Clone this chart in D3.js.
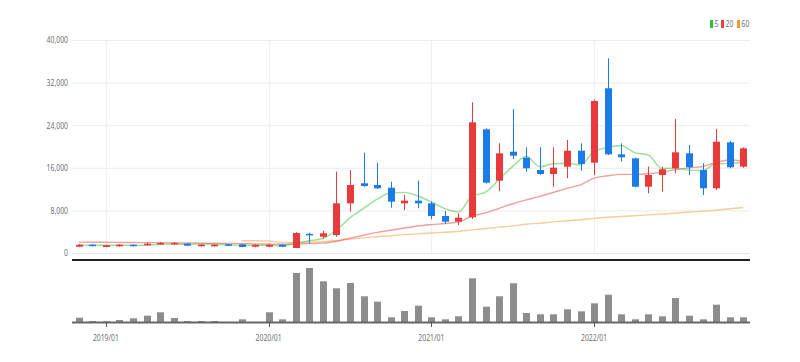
<!DOCTYPE html>
<html><head><meta charset="utf-8">
<script src="https://cdn.jsdelivr.net/npm/d3@7"></script>
<style>
body{margin:0;background:#fff;}
svg{display:block;}
text{font-family:"Noto Sans",sans-serif;}
</style>
</head><body><svg id="c" width="800" height="362"></svg>
<script>
const months = ["2018/11","2018/12",
 "2019/01","2019/02","2019/03","2019/04","2019/05","2019/06","2019/07","2019/08","2019/09","2019/10","2019/11","2019/12",
 "2020/01","2020/02","2020/03","2020/04","2020/05","2020/06","2020/07","2020/08","2020/09","2020/10","2020/11","2020/12",
 "2021/01","2021/02","2021/03","2021/04","2021/05","2021/06","2021/07","2021/08","2021/09","2021/10","2021/11","2021/12",
 "2022/01","2022/02","2022/03","2022/04","2022/05","2022/06","2022/07","2022/08","2022/09","2022/10","2022/11","2022/12"];
const openP  = [1180,1560,1130,1260,1560,1450,1630,1630,1750,1260,1260,1630,1630,1180,1180,1560,940,3600,3050,3380,9330,13090,12770,12270,9330,9830,9330,6950,5880,6700,23230,13580,19020,17900,15590,14840,16210,19210,16960,30930,18530,17780,12450,14650,15900,18720,15590,12150,20780,16210];
const highP  = [1700,1650,1550,1650,1650,2000,2070,2070,1850,1650,1650,1700,1700,1650,1650,1650,3900,3800,4200,15270,15590,18840,16960,13390,10890,13580,9640,7890,7450,28300,23420,20600,27040,19850,19850,19850,21220,20600,28800,36560,20600,17900,16210,16210,25170,20280,16840,23290,21030,19850];
const lowP   = [1100,1250,1080,1200,1250,1400,1580,1580,1300,1200,1200,1300,1080,1100,1100,1130,900,1800,2750,3060,7760,12450,12020,8510,8080,8390,6330,5450,5260,6390,13020,11640,17650,15270,14650,12450,14030,15460,14650,18400,17150,12330,11210,11520,14970,14650,10890,11830,15910,16020];
const closeP = [1560,1310,1450,1560,1310,1750,1880,1880,1370,1560,1560,1370,1130,1560,1560,1180,3760,3400,3700,9330,12770,12580,12150,9640,9830,9330,6950,5880,6630,24540,13200,18720,18270,15900,14840,16020,19210,16710,28550,18530,17970,12450,14650,15720,18910,16100,12150,20900,16100,19660];
const volume = [43,10,7,20,37,63,97,40,10,10,10,0,27,0,97,27,490,540,407,337,390,257,203,47,110,163,47,27,57,437,153,257,387,90,77,77,127,107,187,273,77,27,77,57,240,63,27,173,47,47];
const ma5  = [1480,1450,1460,1470,1438,1476,1590,1676,1638,1688,1650,1548,1398,1436,1436,1360,1838,2292,2720,4274,6592,8356,10106,11294,11394,10706,9580,8326,7724,10666,11440,13794,16272,18126,16186,16750,16848,16536,19066,19804,20194,18842,18430,15864,15940,15566,15506,16756,16832,16982];
const ma20 = [2050,2030,2010,1990,1970,1950,1930,1910,1880,1850,1820,1790,1760,1720,1680,1640,1718,1778,1853,2210,2770,3334,3869,4273,4699,5078,5331,5531,5794,6943,7525,8393,9250,9967,10631,11373,12145,12811,14053,14513,14773,14767,14892,15196,15650,15988,16248,16999,17473,17229];
const ma60 = [null,null,null,null,null,null,null,null,null,null,null,null,2300,2300,2250,2000,2000,2050,2150,2350,2600,2850,3050,3250,3450,3600,3750,3900,4050,4350,4600,4850,5100,5400,5600,5850,6050,6250,6500,6700,6850,7000,7150,7300,7500,7700,7850,8050,8300,8550];
const yTicks = [0,8000,16000,24000,32000,40000];
const xTickLabels = ["2019/01","2020/01","2021/01","2022/01"];
const legendLabels = ["5","20","60"];

const svg = d3.select("#c");
const L = 72, R = 750, yTop = 40, yBot = 253, vTop = 268, vBot = 322;
const UP = "#e8393b", DOWN = "#1b7be8";
const maColors = ["#2fbf2f","#e84040","#f39a3a"];
const TXT = "#6f6f6f";

const x = d3.scaleBand().domain(months).range([L, R]).padding(0);
const cx = m => x(m) + x.bandwidth()/2;
const y = d3.scaleLinear().domain([0, 40000]).range([yBot, yTop]);
const vy = d3.scaleLinear().domain([0, 540]).range([vBot, vTop]);
const bw = 7;

function squeeze(sel, f){
  sel.each(function(){
    const w = this.getComputedTextLength();
    d3.select(this).attr("textLength", w*f).attr("lengthAdjust","spacingAndGlyphs");
  });
}

// horizontal grid
svg.append("g").selectAll("line").data(yTicks).join("line")
  .attr("x1", L).attr("x2", R).attr("y1", d=>y(d)+0.5).attr("y2", d=>y(d)+0.5)
  .attr("stroke", "#ececec").attr("stroke-width", 1);
// vertical grid
svg.append("g").selectAll("line").data(xTickLabels).join("line")
  .attr("x1", d=>Math.round(cx(d))+0.5).attr("x2", d=>Math.round(cx(d))+0.5)
  .attr("y1", yTop).attr("y2", yBot)
  .attr("stroke", "#f0f0f0").attr("stroke-width", 1);

// y axis labels
const yl = svg.append("g").selectAll("text").data(yTicks).join("text")
  .attr("x", 68).attr("y", d=>y(d)).attr("dy","0.35em")
  .attr("text-anchor","end").attr("font-size", 9.5).attr("fill", TXT)
  .text(d3.format(","));
squeeze(yl, 0.72);

// MA lines
const mk = arr => d3.line().defined((d,i)=>arr[i]!=null)
  .x((d,i)=>cx(months[i])).y((d,i)=>y(arr[i])).curve(d3.curveMonotoneX)(months);
[[ma60,2],[ma20,1],[ma5,0]].forEach(([arr,k])=>{
  svg.append("path").attr("d", mk(arr)).attr("fill","none")
    .attr("stroke", maColors[k]).attr("stroke-opacity", 0.5).attr("stroke-width", 1.4);
});

// candles
const cg = svg.append("g");
months.forEach((m,i)=>{
  const up = closeP[i] >= openP[i];
  const col = up ? UP : DOWN;
  const xc = Math.round(cx(m)) + 0.5;
  cg.append("line").attr("x1", xc).attr("x2", xc)
    .attr("y1", y(highP[i])).attr("y2", y(lowP[i]))
    .attr("stroke", col).attr("stroke-width", 1);
  const t = y(Math.max(openP[i], closeP[i])), b = y(Math.min(openP[i], closeP[i]));
  cg.append("rect").attr("x", xc - bw/2).attr("width", bw)
    .attr("y", t).attr("height", Math.max(1.5, b - t)).attr("fill", col);
});

// zero line and separator
svg.append("line").attr("x1", L).attr("x2", R).attr("y1", yBot+0.5).attr("y2", yBot+0.5)
  .attr("stroke", "#e6e6e6");
svg.append("line").attr("x1", L).attr("x2", R).attr("y1", 260).attr("y2", 260)
  .attr("stroke", "#222").attr("stroke-width", 2);

// volume
svg.append("g").selectAll("rect").data(months).join("rect")
  .attr("x", d=>Math.round(cx(d)) + 0.5 - 3.5).attr("width", 7)
  .attr("y", (d,i)=>vy(volume[i])).attr("height", (d,i)=>vBot - vy(volume[i]))
  .attr("fill", "#8d8d8d");
svg.append("line").attr("x1", L).attr("x2", R).attr("y1", vBot+0.5).attr("y2", vBot+0.5)
  .attr("stroke", "#666").attr("stroke-width", 2);

// x axis ticks
svg.append("g").selectAll("line").data(xTickLabels).join("line")
  .attr("x1", d=>Math.round(cx(d))+0.5).attr("x2", d=>Math.round(cx(d))+0.5)
  .attr("y1", vBot).attr("y2", vBot+5).attr("stroke", "#555");
const xl = svg.append("g").selectAll("text").data(xTickLabels).join("text")
  .attr("x", d=>cx(d)).attr("y", 338).attr("dy","0.35em")
  .attr("text-anchor","middle").attr("font-size", 9.5).attr("fill", TXT)
  .text(d=>d);
squeeze(xl, 0.72);

// legend
const lg = svg.append("g");
const lx = [710, 721, 737];
legendLabels.forEach((t,k)=>{
  lg.append("rect").attr("x", lx[k]).attr("y", 20).attr("width", 3).attr("height", 8).attr("fill", maColors[k]);
  const tx = lg.append("text").attr("x", lx[k]+4.5).attr("y", 24).attr("dy","0.35em")
    .attr("font-size", 9.5).attr("fill", TXT).text(t);
  squeeze(tx, 0.72);
});
</script>
</body></html>
